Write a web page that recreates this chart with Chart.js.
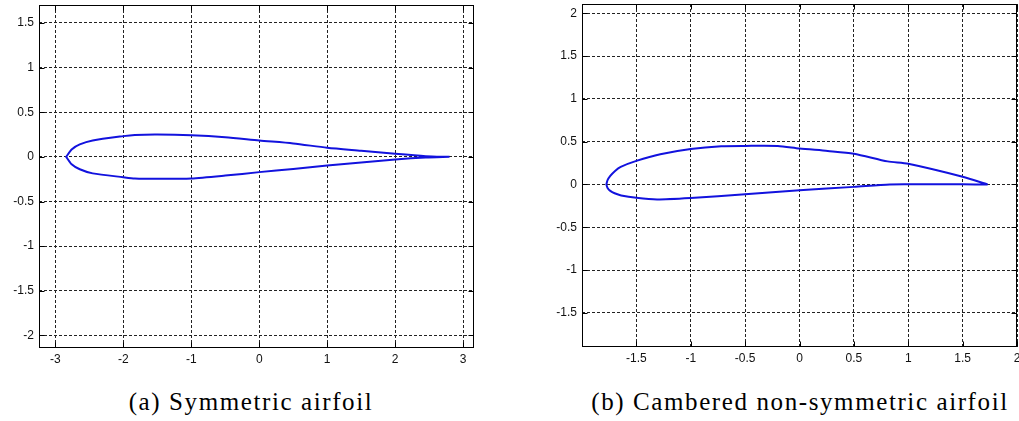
<!DOCTYPE html>
<html>
<head>
<meta charset="utf-8">
<script src="https://cdn.jsdelivr.net/npm/chart.js@4/dist/chart.umd.min.js"></script>
<style>
  body { margin: 0; background: #fff; width: 1019px; height: 421px; position: relative; overflow: hidden; }
  .panel { position: absolute; top: 0; }
  .caption { position: absolute; width: 460px; text-align: center; font-family: "Liberation Serif", serif; font-size: 25px; line-height: 25px; letter-spacing: 1.6px; color: #000; }
</style>
</head>
<body>
<div class="panel" style="left:0px"><canvas id="chart-a" width="500" height="375"></canvas></div>
<div class="panel" style="left:520px"><canvas id="chart-b" width="499" height="375"></canvas></div>
<div class="caption" style="left:21px; top:389px">(a) Symmetric airfoil</div>
<div class="caption" style="left:570px; top:389px">(b) Cambered non-symmetric airfoil</div>
<script>
// (a) symmetric airfoil, upper surface trailing edge -> leading edge, lower surface back again
const symUpperX = [2.80, 2.45, 2.0, 1.5, 1.0, 0.5, 0.0, -0.5, -1.0, -1.5, -1.83, -2.0, -2.45, -2.64, -2.76, -2.84];
const symUpperY = [0.0, 0.008, 0.034, 0.068, 0.102, 0.15, 0.183, 0.22, 0.242, 0.25, 0.245, 0.232, 0.183, 0.139, 0.083, 0.0];
const symLowerX = [-2.84, -2.76, -2.64, -2.45, -2.0, -1.83, -1.5, -1.0, -0.5, 0.0, 0.5, 1.0, 1.5, 2.0, 2.45, 2.80];
const symLowerY = [0.0, -0.083, -0.139, -0.185, -0.228, -0.242, -0.246, -0.242, -0.21, -0.171, -0.135, -0.097, -0.064, -0.03, -0.008, 0.0];

// (b) cambered airfoil
const camUpperX = [1.73, 1.5, 1.0, 0.81, 0.5, 0.26, 0.0, -0.2, -0.5, -0.72, -1.0, -1.28, -1.5, -1.644, -1.696, -1.74, -1.765, -1.776];
const camUpperY = [0.0, 0.09, 0.242, 0.27, 0.36, 0.392, 0.42, 0.45, 0.451, 0.447, 0.415, 0.354, 0.276, 0.206, 0.159, 0.10, 0.05, 0.0];
const camLowerX = [-1.776, -1.765, -1.74, -1.70, -1.64, -1.5, -1.31, -1.0, -0.5, 0.0, 0.5, 0.83, 1.0, 1.5, 1.73];
const camLowerY = [0.0, -0.04, -0.075, -0.103, -0.128, -0.156, -0.175, -0.158, -0.115, -0.068, -0.028, 0.0, 0.002, 0.002, 0.0];

const symTicksX = [-3, -2, -1, 0, 1, 2, 3];
const symTicksY = [-2, -1.5, -1, -0.5, 0, 0.5, 1, 1.5];
const camTicksX = [-2, -1.5, -1, -0.5, 0, 0.5, 1, 1.5, 2];
const camTicksY = [-1.5, -1, -0.5, 0, 0.5, 1, 1.5, 2];

// matlab style box with small inward tick marks
const boxPlugin = {
    id: 'box',
    afterDraw(chart) {
        const { ctx, chartArea: a, scales } = chart;
        const l = Math.round(a.left) + 0.5, r = Math.round(a.right) - 0.5;
        const t = Math.round(a.top) + 0.5, b = Math.round(a.bottom) - 0.5;
        ctx.save();
        ctx.strokeStyle = '#000';
        ctx.lineWidth = 1;
        ctx.strokeRect(l, t, r - l, b - t);
        ctx.beginPath();
        scales.x.ticks.forEach(tk => {
            const px = Math.round(scales.x.getPixelForValue(tk.value)) + 0.5;
            ctx.moveTo(px, b); ctx.lineTo(px, b - 5);
            ctx.moveTo(px, t); ctx.lineTo(px, t + 5);
        });
        scales.y.ticks.forEach(tk => {
            const py = Math.round(scales.y.getPixelForValue(tk.value)) + 0.5;
            ctx.moveTo(l, py); ctx.lineTo(l + 5, py);
            ctx.moveTo(r, py); ctx.lineTo(r - 5, py);
        });
        ctx.stroke();
        ctx.restore();
    }
};

function toPoints(xs, ys) {
    return xs.map((x, i) => ({ x: x, y: ys[i] }));
}

function makeChart(id, upper, lower, xRange, yRange, xTicks, yTicks, yWidth, pad, hideX) {
    const tickFont = { family: '"Liberation Sans", Arial, sans-serif', size: 12 };
    return new Chart(document.getElementById(id), {
        type: 'scatter',
        data: {
            datasets: [{
                data: upper.concat(lower),
                showLine: true,
                borderColor: 'rgb(18, 18, 222)',
                borderWidth: 2,
                pointRadius: 0,
                tension: 0.25,
                fill: false
            }]
        },
        options: {
            responsive: false,
            animation: false,
            layout: { padding: pad },
            plugins: { legend: { display: false }, tooltip: { enabled: false } },
            scales: {
                x: {
                    type: 'linear',
                    min: xRange[0],
                    max: xRange[1],
                    afterBuildTicks: s => { s.ticks = xTicks.map(v => ({ value: v })); },
                    afterFit: s => { s.height = 22; s.paddingLeft = 0; s.paddingRight = 0; },
                    grid: { color: '#222', lineWidth: 1, drawTicks: false },
                    border: { display: false, dash: [3, 2] },
                    ticks: {
                        font: tickFont, color: '#111', padding: 4, autoSkip: false, maxRotation: 0,
                        callback: v => (hideX.includes(v) ? '' : String(v))
                    }
                },
                y: {
                    type: 'linear',
                    min: yRange[0],
                    max: yRange[1],
                    afterBuildTicks: s => { s.ticks = yTicks.map(v => ({ value: v })); },
                    afterFit: s => { s.width = yWidth; s.paddingTop = 0; s.paddingBottom = 0; },
                    grid: { color: '#222', lineWidth: 1, drawTicks: false },
                    border: { display: false, dash: [3, 2] },
                    ticks: {
                        font: tickFont, color: '#111', padding: 5, autoSkip: false,
                        callback: v => String(v)
                    }
                }
            }
        },
        plugins: [boxPlugin]
    });
}

makeChart('chart-a',
    toPoints(symUpperX, symUpperY), toPoints(symLowerX, symLowerY),
    [-3.24, 3.16], [-2.14, 1.7], symTicksX, symTicksY,
    39, { left: 0, top: 5, right: 26, bottom: 5 }, []);

makeChart('chart-b',
    toPoints(camUpperX, camUpperY), toPoints(camLowerX, camLowerY),
    [-2, 2], [-1.9, 2.11], camTicksX, camTicksY,
    62, { left: 0, top: 4, right: 2, bottom: 6 }, [-2]);
</script>
</body>
</html>
